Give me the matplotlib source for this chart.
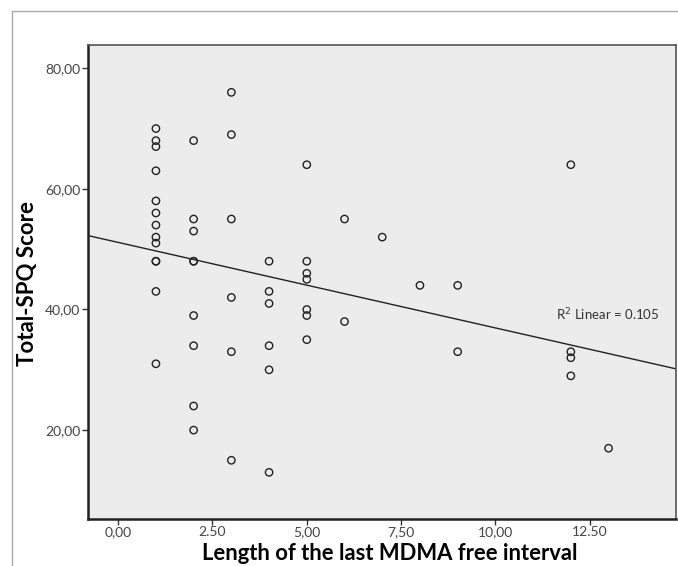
import numpy as np
import matplotlib
matplotlib.use("Agg")
import matplotlib.pyplot as plt
from matplotlib.patches import Rectangle

# Datos (intervalo libre de MDMA vs puntuacion SPQ)
intervalo = [1] * 13 + [2] * 9 + [3] * 6 + [4] * 6 + [5] * 7 + [6] * 2 + [7, 8] + [9] * 2 + [12] * 4 + [13]
spq = [70, 68, 67, 63, 58, 56, 54, 52, 51, 48, 48, 43, 31,
       68, 55, 53, 48, 48, 39, 34, 24, 20,
       76, 69, 55, 42, 33, 15,
       48, 43, 41, 34, 30, 13,
       64, 48, 46, 45, 40, 39, 35,
       55, 38,
       52,
       44,
       44, 33,
       64, 33, 32, 29,
       17]

xticks = [0, 2.5, 5, 7.5, 10, 12.5]
xtick_labels = ["0,00", "2.50", "5,00", "7,50", "10,00", "12.50"]
yticks = [20, 40, 60, 80]
ytick_labels = ["20,00", "40,00", "60,00", "80,00"]

x = np.array(intervalo, dtype=float)
y = np.array(spq, dtype=float)

# Recta de regresion
m, c = np.polyfit(x, y, 1)
r2 = np.corrcoef(x, y)[0, 1] ** 2

plt.rcParams['font.family'] = ['Lato', 'DejaVu Sans']

fig = plt.figure(figsize=(6.78, 5.66), dpi=100)
fig.patch.set_facecolor('white')

# marco exterior
fig.patches.append(Rectangle((11.5 / 678, -0.1), 1.2, 1 - 11 / 566 + 0.1,
                             transform=fig.transFigure, fill=False,
                             edgecolor='#aaaaaa', linewidth=1.0))

ax = fig.add_axes([88.4 / 678, 1 - 519.4 / 566, (675.7 - 88.4) / 678, (519.4 - 44.7) / 566])
ax.set_facecolor('#ececec')

xlim = (-0.79, 14.78)
ax.set_xlim(xlim)
ax.set_ylim(5.2, 83.9)

ax.scatter(x, y, s=28, facecolors='none', edgecolors='#222222', linewidths=1.0, zorder=3)

xs = np.array(xlim)
ax.plot(xs, m * xs + c, color='#222222', linewidth=1.0, zorder=2)

ax.text(11.6, 39.1, "R$^2$ Linear = %.3f" % r2, fontsize=9.5, color='#333333',
        ha='left', va='center')

ax.set_xticks(xticks)
ax.set_xticklabels(xtick_labels)
ax.set_yticks(yticks)
ax.set_yticklabels(ytick_labels)
ax.tick_params(axis='both', direction='out', length=4, width=1, color='#333333',
               labelsize=10, labelcolor='#444444', pad=2)
ax.tick_params(axis='x', pad=1)
ax.tick_params(top=False, right=False)

for s in ax.spines.values():
    s.set_color('#555555')
    s.set_linewidth(1.2)
ax.spines['left'].set_color('#222222')
ax.spines['bottom'].set_color('#222222')
ax.spines['left'].set_linewidth(1.8)
ax.spines['bottom'].set_linewidth(1.8)

# titulos de los ejes
fig.text(390 / 678, 1 - 560 / 566, "Length of the last MDMA free interval",
         fontsize=15.8, fontweight='bold', ha='center', va='baseline')
fig.text(28 / 678, 1 - 283 / 566, "Total-SPQ Score", rotation=90,
         fontsize=16, fontweight='bold', ha='center', va='center')

fig.savefig("out.png", dpi=100)
